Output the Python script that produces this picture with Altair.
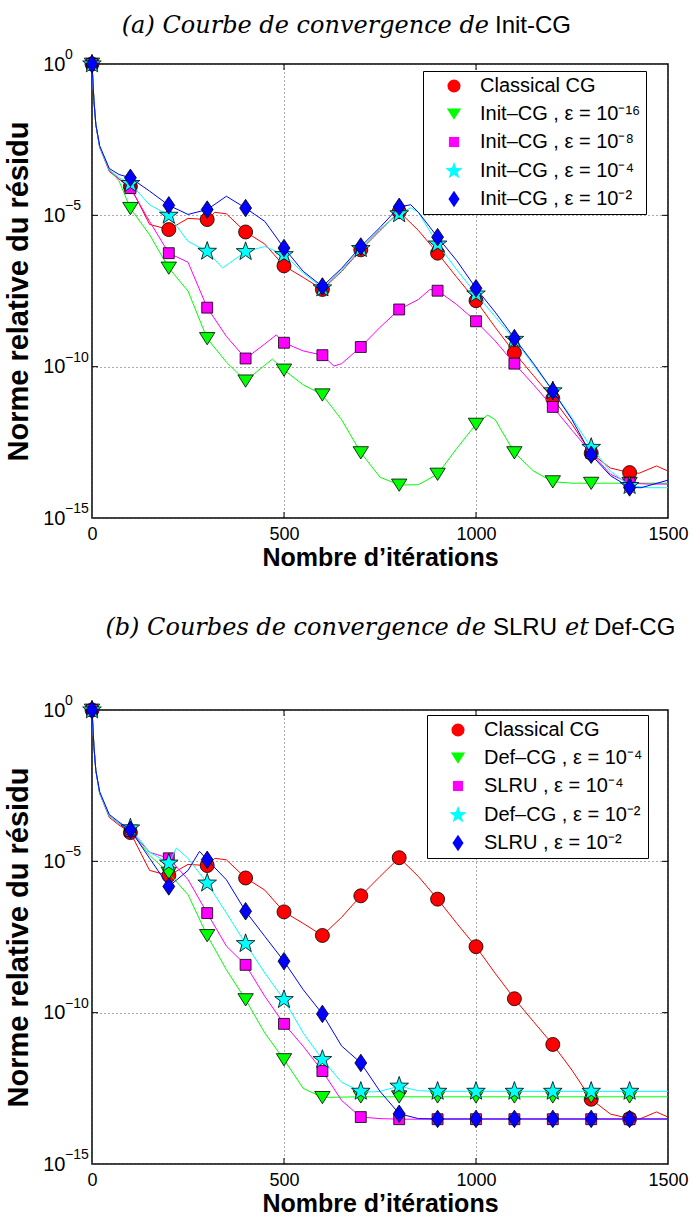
import altair as alt
import pandas as pd

# ---------------- data: (iteration, log10 of relative residual norm) ----------------
# panel (a)
classical_cg = [(0, 0), (5, -1.2), (10, -2.0), (20, -2.75), (45, -3.55), (70, -3.8), (100, -4.05),
                (150, -5.3), (200, -5.47), (250, -5.1), (300, -5.14), (320, -4.9), (350, -4.95),
                (400, -5.55), (450, -5.95), (500, -6.67), (550, -7.05), (600, -7.45), (650, -6.85),
                (700, -6.14), (750, -5.5), (800, -4.88), (850, -5.5), (900, -6.25), (950, -7.05),
                (1000, -7.82), (1050, -8.7), (1100, -9.54), (1150, -10.3), (1200, -11.05), (1250, -11.9),
                (1300, -12.86), (1350, -13.35), (1400, -13.5), (1425, -13.52), (1470, -13.28), (1500, -13.45)]
init_cg_16 = [(0, 0), (5, -1.2), (10, -2.0), (20, -2.75), (45, -3.5), (70, -3.85), (100, -4.77),
              (150, -5.64), (200, -6.74), (250, -7.5), (300, -9.07), (350, -9.85), (400, -10.47),
              (450, -9.95), (470, -9.75), (500, -10.11), (550, -10.6), (600, -10.93), (650, -11.75),
              (700, -12.84), (750, -13.65), (800, -13.91), (850, -13.9), (900, -13.55), (950, -12.7),
              (1000, -11.9), (1030, -11.6), (1050, -11.75), (1100, -12.84), (1150, -13.45), (1200, -13.8),
              (1250, -13.85), (1300, -13.85), (1400, -13.85), (1500, -13.85)]
init_cg_8 = [(0, 0), (5, -1.2), (10, -2.0), (20, -2.75), (45, -3.5), (70, -3.8), (100, -4.1),
             (150, -5.2), (200, -6.25), (250, -6.55), (300, -8.05), (350, -9.0), (400, -9.73),
             (450, -9.25), (480, -8.95), (500, -9.21), (550, -9.48), (600, -9.62), (630, -9.98),
             (650, -9.9), (700, -9.35), (750, -8.7), (800, -8.11), (850, -7.78), (880, -7.45),
             (900, -7.49), (950, -7.95), (1000, -8.5), (1050, -9.15), (1100, -9.9), (1150, -10.6),
             (1200, -11.33), (1250, -12.1), (1300, -12.85), (1350, -13.55), (1400, -13.85),
             (1450, -13.88), (1500, -13.88)]
init_cg_4 = [(0, 0), (5, -1.2), (10, -2.0), (20, -2.75), (45, -3.5), (70, -3.75), (100, -3.95),
             (150, -4.65), (200, -5.0), (250, -5.86), (300, -6.19), (340, -6.74), (400, -6.2),
             (450, -6.03), (500, -6.3), (550, -6.9), (600, -7.4), (650, -6.8), (700, -6.1),
             (750, -5.45), (800, -4.95), (830, -4.75), (850, -4.9), (900, -5.95), (950, -6.8),
             (1000, -7.6), (1050, -8.35), (1100, -9.1), (1150, -9.95), (1200, -10.8), (1250, -11.7),
             (1300, -12.67), (1350, -13.45), (1400, -13.93), (1450, -14.0), (1500, -14.0)]
init_cg_2 = [(0, 0), (5, -1.2), (10, -2.0), (20, -2.7), (45, -3.45), (70, -3.65), (100, -3.76),
             (150, -4.2), (200, -4.67), (250, -4.97), (300, -4.81), (350, -4.37), (400, -4.76),
             (450, -5.2), (500, -6.08), (550, -6.85), (600, -7.35), (650, -6.75), (700, -6.03),
             (750, -5.4), (800, -4.72), (830, -4.65), (850, -4.9), (900, -5.72), (950, -6.5),
             (1000, -7.41), (1050, -8.2), (1100, -9.06), (1150, -9.9), (1200, -10.8), (1250, -11.75),
             (1300, -12.91), (1350, -13.6), (1400, -13.99), (1430, -14.0), (1500, -13.75)]
# panel (b)
def_cg_4 = [(0, 0), (5, -1.2), (10, -2.0), (20, -2.75), (45, -3.5), (70, -3.75), (100, -4.0),
            (150, -4.8), (200, -5.39), (250, -6.1), (300, -7.45), (350, -8.58), (400, -9.57),
            (450, -10.67), (500, -11.55), (550, -12.5), (600, -12.8), (700, -12.78), (800, -12.78),
            (900, -12.78), (1000, -12.78), (1100, -12.78), (1200, -12.78), (1300, -12.78),
            (1400, -12.78), (1500, -12.78)]
slru_4 = [(0, 0), (5, -1.2), (10, -2.0), (20, -2.75), (45, -3.5), (70, -3.75), (100, -4.0),
          (150, -4.7), (200, -4.9), (250, -5.6), (300, -6.71), (350, -7.8), (400, -8.42),
          (450, -9.46), (500, -10.37), (550, -11.11), (600, -11.93), (650, -12.9), (700, -13.45),
          (750, -13.5), (800, -13.52), (900, -13.52), (1000, -13.52), (1100, -13.52), (1200, -13.52),
          (1300, -13.52), (1400, -13.52), (1500, -13.52)]
def_cg_2 = [(0, 0), (5, -1.2), (10, -2.0), (20, -2.75), (45, -3.5), (70, -3.75), (100, -3.9),
            (150, -4.7), (200, -5.06), (220, -4.56), (250, -4.9), (300, -5.72), (350, -6.71),
            (400, -7.72), (450, -8.69), (500, -9.57), (550, -10.67), (600, -11.55), (650, -12.3),
            (700, -12.6), (730, -12.62), (750, -12.6), (800, -12.43), (850, -12.58), (900, -12.6),
            (1000, -12.6), (1100, -12.6), (1200, -12.6), (1300, -12.6), (1400, -12.6), (1500, -12.6)]
slru_2 = [(0, 0), (5, -1.2), (10, -2.0), (20, -2.7), (45, -3.45), (70, -3.7), (100, -3.96),
          (150, -4.9), (200, -5.83), (250, -5.3), (280, -4.67), (300, -4.95), (350, -5.61),
          (400, -6.65), (450, -7.48), (500, -8.3), (550, -9.24), (600, -10.04), (650, -11.1),
          (700, -11.66), (750, -12.6), (800, -13.34), (850, -13.5), (900, -13.51), (1000, -13.51),
          (1100, -13.51), (1200, -13.51), (1300, -13.51), (1400, -13.51), (1500, -13.51)]

PAD = "\u00a0\u00a0"
NAMES_A = ["Classical CG", "Init\u2013CG , \u03b5 = 10\u207b\u00b9\u2076" + PAD,
           "Init\u2013CG , \u03b5 = 10\u207b\u2078", "Init\u2013CG , \u03b5 = 10\u207b\u2074",
           "Init\u2013CG , \u03b5 = 10\u207b\u00b2"]
NAMES_B = ["Classical CG", "Def\u2013CG , \u03b5 = 10\u207b\u2074" + PAD, "SLRU , \u03b5 = 10\u207b\u2074",
           "Def\u2013CG , \u03b5 = 10\u207b\u00b2" + PAD, "SLRU , \u03b5 = 10\u207b\u00b2"]
SERIES_A = [classical_cg, init_cg_16, init_cg_8, init_cg_4, init_cg_2]
SERIES_B = [classical_cg, def_cg_4, slru_4, def_cg_2, slru_2]
COLORS = ["#ff0000", "#00ff00", "#ff00ff", "#00ffff", "#0000ff"]

X_TICKS = [0, 500, 1000, 1500]
Y_TICKS = [1, 1e-5, 1e-10, 1e-15]
Y_EXPONENTS = ["0", "\u22125", "\u221210", "\u221215"]
X_INNER = [500, 1000]
Y_INNER = [1e-10, 1e-5]
MARKER_STEP = 100
MARKER_MAX = 1400

# ---------------- styling ----------------
W, H = 576, 454
TRI_DOWN = "M0,0.9L-1.1,-0.85L1.1,-0.85Z"
SQUARE = "M-0.78,-0.78L0.78,-0.78L0.78,0.78L-0.78,0.78Z"
STAR = ("M0,-1.4L0.33,-0.45L1.33,-0.43L0.54,0.18L0.82,1.13L0,0.56L-0.82,1.13"
        "L-0.54,0.18L-1.33,-0.43L-0.33,-0.45Z")
DIAMOND = "M0,-1.25L0.85,0L0,1.25L-0.85,0Z"
SHAPES = ["circle", TRI_DOWN, SQUARE, STAR, DIAMOND]

SERIF = "DejaVu Serif"
SANS = "Liberation Sans"


def build_panel(names, series, parts, legend_x, legend_y):
    x_enc = alt.X("iter:Q", scale=alt.Scale(domain=[0, 1500], nice=False, zero=False),
                  axis=alt.Axis(values=X_TICKS, format="d", title="Nombre d\u2019it\u00e9rations",
                                labelPadding=7, titlePadding=2, labelFlush=False))
    y_enc = alt.Y("val:Q", scale=alt.Scale(type="log", domain=[1e-15, 1], nice=False),
                  axis=alt.Axis(values=Y_TICKS, labelExpr="'10'", labelFlush=False, labelFontSize=20,
                                title="Norme relative du r\u00e9sidu", titleFontSize=29,
                                labelPadding=27, titlePadding=9))
    leg = dict(orient="none", legendX=legend_x, legendY=legend_y, title=None, padding=5,
               strokeColor="black", fillColor="white", cornerRadius=0,
               labelFont=SANS, labelFontSize=20, labelColor="black", labelLimit=400,
               symbolSize=170, symbolOffset=16, labelOffset=16, rowPadding=8,
               symbolStrokeColor="black", symbolStrokeWidth=0.8)
    fill_enc = alt.Fill("series:N", scale=alt.Scale(domain=names, range=COLORS),
                        legend=alt.Legend(**leg))
    shape_enc = alt.Shape("series:N", scale=alt.Scale(domain=names, range=SHAPES),
                          legend=alt.Legend(**leg))

    layers = []
    for name, color, pts in zip(names, COLORS, series):
        df = pd.DataFrame({"iter": [p[0] for p in pts],
                           "val": [10.0 ** p[1] for p in pts],
                           "series": name})
        layers.append(alt.Chart(df).mark_line(color=color, strokeWidth=1)
                      .encode(x=x_enc, y=y_enc))
        dm = df[(df["iter"] % MARKER_STEP == 0) & (df["iter"] <= MARKER_MAX)]
        layers.append(alt.Chart(dm).mark_point(filled=True, size=196, stroke="black",
                                               strokeWidth=0.8, opacity=1)
                      .encode(x=x_enc, y=y_enc, fill=fill_enc, shape=shape_enc))

    # inward tick marks (box ticks)
    xt = pd.DataFrame({"iter": X_INNER})
    yt = pd.DataFrame({"val": Y_INNER})
    layers.append(alt.Chart(xt).mark_rule(color="black", strokeWidth=1)
                  .encode(x=x_enc, y=alt.value(H), y2=alt.value(H - 6)))
    layers.append(alt.Chart(xt).mark_rule(color="black", strokeWidth=1)
                  .encode(x=x_enc, y=alt.value(0), y2=alt.value(6)))
    layers.append(alt.Chart(yt).mark_rule(color="black", strokeWidth=1)
                  .encode(y=y_enc, x=alt.value(0), x2=alt.value(6)))
    layers.append(alt.Chart(yt).mark_rule(color="black", strokeWidth=1)
                  .encode(y=y_enc, x=alt.value(W), x2=alt.value(W - 6)))

    # exponents of the y tick labels (10^k)
    ye = pd.DataFrame({"val": Y_TICKS, "e": Y_EXPONENTS})
    layers.append(alt.Chart(ye).mark_text(align="left", baseline="middle", dy=-9, font=SANS,
                                          fontSize=14, color="black")
                  .encode(y=y_enc, x=alt.value(-27), text="e:N"))

    # title made of italic serif + sans parts
    for text, xpos, align, italic, ypos in parts:
        layers.append(
            alt.Chart(pd.DataFrame({"t": [text]}))
            .mark_text(align=align, baseline="middle", font=SERIF if italic else SANS,
                       fontSize=24, fontStyle="italic" if italic else "normal", color="black")
            .encode(text="t:N", x=alt.value(xpos), y=alt.value(ypos))
        )
    return alt.layer(*layers).properties(width=W, height=H)


panel_a = build_panel(NAMES_A, SERIES_A, [
    ("(a) Courbe de convergence de", 397, "right", True, -38),
    ("Init-CG", 403, "left", False, -38),
], 331, 7)
panel_b = build_panel(NAMES_B, SERIES_B, [
    ("(b) Courbes de convergence de", 394, "right", True, -82),
    ("SLRU", 401, "left", False, -82),
    ("et", 473, "left", True, -82),
    ("Def-CG", 502, "left", False, -82),
], 335, 5)

chart = (
    alt.vconcat(panel_a, panel_b, spacing=44)
    .resolve_scale(fill="independent", shape="independent")
    .resolve_legend(fill="independent", shape="independent")
    .properties(padding={"left": 4, "top": 13, "right": 5, "bottom": 0}, background="white")
    .configure_view(stroke="black", strokeWidth=1.5)
    .configure_axis(labelFont=SANS, labelFontSize=18, labelColor="black",
                    titleFont=SANS, titleFontSize=25, titleFontWeight="bold", titleColor="black",
                    grid=True, gridColor="#555555", gridDash=[1, 3], gridWidth=1,
                    ticks=False, domain=False)
)

chart.save("out.html", embed_options={"renderer": "svg", "actions": False})
